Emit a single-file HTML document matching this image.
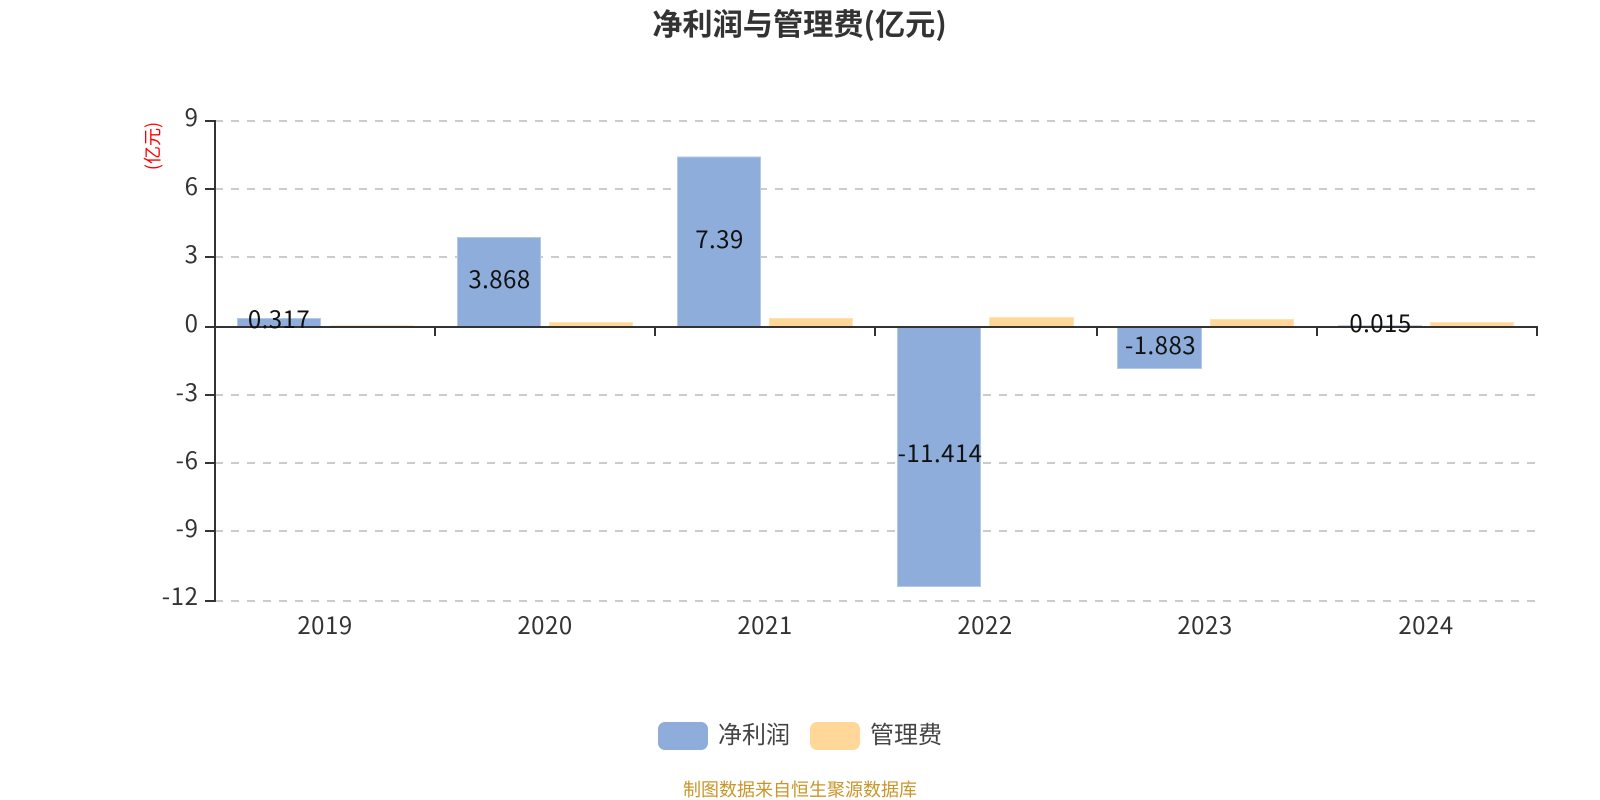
<!DOCTYPE html>
<html lang="zh">
<head>
<meta charset="utf-8">
<title>净利润与管理费</title>
<style>
html,body{margin:0;padding:0;background:#fff;width:1600px;height:800px;overflow:hidden}
svg{display:block}
text{font-family:"Noto Sans CJK SC","Liberation Sans",sans-serif}
.g{stroke:#ccc;stroke-width:2;stroke-dasharray:8 8;fill:none}
.a{stroke:#333;stroke-width:2;fill:none}
.b{fill:#8eadda;stroke:#b4c9e8;stroke-width:1}
.o{fill:#ffd899;stroke:#ffe3b5;stroke-width:1}
.y{font-size:24px;fill:#333;text-anchor:end;letter-spacing:.6px}
.x{font-size:24px;fill:#333;text-anchor:middle;letter-spacing:.5px}
.l{font-size:24px;fill:#111;text-anchor:middle;letter-spacing:.45px}
</style>
</head>
<body>
<svg width="1600" height="800" viewBox="0 0 1600 800" xmlns="http://www.w3.org/2000/svg">
<rect width="1600" height="800" fill="#fff"/>
<text x="799.5" y="35" font-size="30.2" font-weight="700" fill="#333" text-anchor="middle">净利润与管理费(亿元)</text>
<text transform="translate(159,146) rotate(-90)" font-size="18" fill="#f00" text-anchor="middle">(亿元)</text>

<path class="g" d="M215 121H1537M215 189H1537M215 257H1537M215 395H1537M215 463H1537M215 531H1537M215 601H1537"/>

<rect class="b" x="237.5" y="318.5" width="83" height="8"/>
<rect class="b" x="457.5" y="237.5" width="83" height="89"/>
<rect class="b" x="677.5" y="157" width="83" height="169.5"/>
<rect class="b" x="897.5" y="326.5" width="83" height="260"/>
<rect class="b" x="1117.5" y="326.5" width="84" height="42"/>
<rect x="1338" y="325" width="84" height="1" fill="#c5d5ec"/>

<rect x="330" y="325" width="84" height="1" fill="#ffe9c6"/>
<rect class="o" x="549.5" y="322.5" width="83" height="4"/>
<rect class="o" x="769.5" y="318.5" width="83" height="8"/>
<rect class="o" x="989.5" y="317.5" width="84" height="9"/>
<rect class="o" x="1210.5" y="319.5" width="83" height="7"/>
<rect class="o" x="1430.5" y="322.5" width="83" height="4"/>

<path class="a" d="M215 120V602"/>
<path class="a" d="M205 121H215M205 189H215M205 257H215M205 327H215M205 395H215M205 463H215M205 531H215M205 601H215"/>
<path class="a" d="M215 327H1538"/>
<path class="a" d="M435 326V336M655 326V336M875 326V336M1097 326V336M1317 326V336M1537 326V336"/>

<text class="y" x="198.5" y="126">9</text>
<text class="y" x="198.5" y="195">6</text>
<text class="y" x="198.5" y="263">3</text>
<text class="y" x="198.5" y="332">0</text>
<text class="y" x="198.5" y="401">-3</text>
<text class="y" x="198.5" y="469">-6</text>
<text class="y" x="198.5" y="537">-9</text>
<text class="y" x="198.5" y="605">-12</text>

<text class="x" x="325" y="634">2019</text>
<text class="x" x="545" y="634">2020</text>
<text class="x" x="765" y="634">2021</text>
<text class="x" x="985" y="634">2022</text>
<text class="x" x="1205" y="634">2023</text>
<text class="x" x="1426" y="634">2024</text>

<text class="l" x="279" y="328">0.317</text>
<text class="l" x="499.5" y="288">3.868</text>
<text class="l" x="719.5" y="248">7.39</text>
<text class="l" x="940" y="462">-11.414</text>
<text class="l" x="1160.5" y="354">-1.883</text>
<text class="l" x="1380.5" y="332">0.015</text>

<rect x="658" y="722" width="50" height="28" rx="7" fill="#8eadda"/>
<text x="718" y="743" font-size="24" fill="#444">净利润</text>
<rect x="810" y="722" width="50" height="28" rx="7" fill="#ffd899"/>
<text x="870" y="743" font-size="24" fill="#444">管理费</text>

<text x="800" y="796" font-size="18" fill="#c8962a" text-anchor="middle">制图数据来自恒生聚源数据库</text>
</svg>
</body>
</html>
